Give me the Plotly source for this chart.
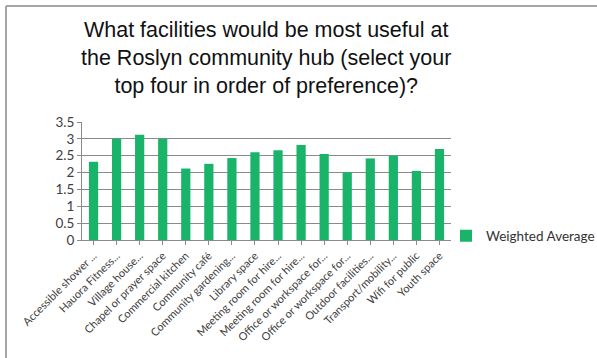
import plotly.graph_objects as go

categories = [
    "Accessible shower ...", "Hauora Fitness...", "Village house...",
    "Chapel or prayer space", "Commercial kitchen", "Community café",
    "Community gardening...", "Library space", "Meeting room for hire...",
    "Meeting room for hire...", "Office or workspace for...",
    "Office or workspace for...", "Outdoor facilities...",
    "Transport/mobility...", "Wifi for public", "Youth space",
]
weighted_average = [2.32, 3.00, 3.12, 3.00, 2.12, 2.26, 2.43, 2.60,
                    2.66, 2.82, 2.55, 2.01, 2.42, 2.50, 2.05, 2.70]

title_text = ("What facilities would be most useful at<br>"
              "the Roslyn community hub (select your<br>"
              "top four in order of preference)?")

W, H = 597, 358
L, R, T, B = 82, 451, 122, 240  # plot area in pixels

# unique x positions so repeated labels stay separate bars
xs = list(range(len(categories)))

fig = go.Figure()
fig.add_trace(go.Bar(
    x=xs, y=weighted_average, name="Weighted Average",
    marker=dict(color="#19B46A", line=dict(width=0)),
    width=0.4,
))

def px_x(p):
    return (p - L) / (R - L)

def px_y(p):
    return (B - p) / (B - T)

fig.update_layout(
    width=W, height=H,
    margin=dict(l=L, r=W - R, t=T, b=H - B, autoexpand=False),
    paper_bgcolor="white", plot_bgcolor="white",
    font=dict(family="Lato, Open Sans, sans-serif", color="#404040"),
    showlegend=True,
    legend=dict(x=px_x(446), y=px_y(236), xanchor="left", yanchor="middle",
                font=dict(size=13.5, color="#333333"),
                bgcolor="rgba(0,0,0,0)", itemwidth=30),
    bargap=0.6,
    xaxis=dict(
        tickmode="array", tickvals=xs, ticktext=categories,
        tickangle=-45, tickfont=dict(size=11, color="#404040"),
        range=[-0.5, len(xs) - 0.5],
        showline=True, linecolor="#8a8a8a", linewidth=1,
        ticks="outside", ticklen=4, tickcolor="#8a8a8a",
        tickson="boundaries", showgrid=False, zeroline=False,
    ),
    yaxis=dict(
        range=[0, 3.5], dtick=0.5, tickformat="~g",
        tickfont=dict(size=13.5, color="#404040"),
        showline=True, linecolor="#8a8a8a", linewidth=1,
        ticks="outside", ticklen=4, tickcolor="#8a8a8a",
        showgrid=True, gridcolor="#8a8a8a", gridwidth=1,
        zeroline=False,
    ),
    annotations=[
        dict(text=title_text, xref="paper", yref="paper",
             x=px_x(266), y=px_y(16), xanchor="center", yanchor="top",
             showarrow=False, align="center",
             font=dict(family="Liberation Sans, Arial, sans-serif",
                       size=21.5, color="#111111")),
    ],
    shapes=[
        dict(type="line", xref="paper", yref="paper",
             x0=px_x(6), x1=px_x(W + 2), y0=px_y(6), y1=px_y(6),
             line=dict(color="#a6a6a6", width=2)),
        dict(type="line", xref="paper", yref="paper",
             x0=px_x(6), x1=px_x(6), y0=px_y(6), y1=px_y(H + 2),
             line=dict(color="#a6a6a6", width=2)),
    ],
)

fig.write_html("out.html")
